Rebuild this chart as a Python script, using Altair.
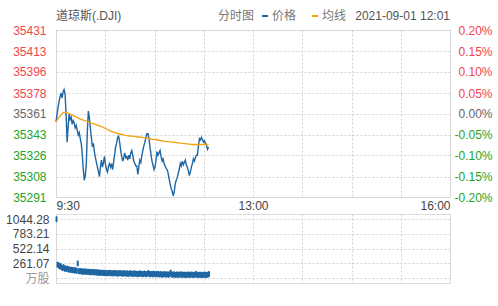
import altair as alt
import pandas as pd

# ---------------- data ----------------
minutes = list(range(152))
price = [
    35354, 35360, 35366, 35371, 35375, 35378, 35374, 35379, 35381, 35377,
    35360, 35337, 35350, 35361, 35356, 35358, 35352, 35355, 35353, 35349,
    35351, 35347, 35343, 35345, 35340, 35336, 35327, 35314, 35305, 35309,
    35319, 35345, 35363, 35358, 35349, 35341, 35333, 35336, 35329, 35324,
    35320, 35316, 35312, 35308, 35316, 35322, 35316, 35320, 35325, 35318,
    35314, 35312, 35317, 35319, 35316, 35319, 35314, 35320, 35326, 35333,
    35336, 35341, 35342, 35337, 35330, 35325, 35321, 35324, 35328, 35324,
    35325, 35322, 35326, 35323, 35328, 35330, 35326, 35321, 35319, 35317,
    35317, 35310, 35316, 35322, 35320, 35326, 35330, 35334, 35337, 35341,
    35344, 35344, 35340, 35333, 35327, 35321, 35318, 35314, 35316, 35322,
    35329, 35326, 35328, 35330, 35325, 35321, 35323, 35319, 35317, 35315,
    35314, 35311, 35306, 35302, 35298, 35296, 35292, 35295, 35302, 35305,
    35307, 35311, 35314, 35319, 35317, 35321, 35318, 35320, 35322, 35318,
    35316, 35313, 35309, 35312, 35316, 35319, 35323, 35321, 35324, 35326,
    35326, 35334, 35340, 35339, 35341, 35339, 35337, 35338, 35336, 35334,
    35331, 35333,
]
avg_minutes = [0, 5, 8, 10, 15, 20, 25, 30, 35, 40, 45, 50, 55, 60, 65, 70, 75,
               80, 85, 90, 95, 100, 105, 110, 115, 120, 125, 130, 135, 140, 145, 151]
avg_price = [35354, 35360, 35362, 35362, 35360, 35358, 35356, 35354.5, 35353, 35351.5,
             35350, 35348, 35346, 35344.5, 35343.5, 35342.5, 35342, 35341.5, 35341,
             35340.5, 35339.5, 35339, 35338, 35337.5, 35337, 35336.5, 35336, 35335.5,
             35335, 35335, 35335, 35335]
volume = [
    1040, 236, 228, 205, 214, 188, 176, 192, 164, 170,
    158, 166, 148, 152, 140, 146, 136, 142, 130, 138,
    126, 258, 122, 116, 124, 112, 118, 108, 120, 110,
    114, 104, 112, 100, 108, 98, 110, 102, 96, 106,
    94, 100, 90, 98, 88, 96, 92, 86, 94, 84,
    90, 82, 88, 94, 80, 86, 78, 92, 84, 80,
    86, 76, 84, 90, 78, 82, 74, 88, 80, 76,
    82, 72, 80, 86, 74, 78, 70, 84, 76, 72,
    78, 68, 76, 82, 70, 74, 66, 80, 72, 68,
    74, 88, 70, 66, 72, 64, 78, 68, 62, 70,
    66, 72, 60, 68, 64, 58, 70, 62, 66, 60,
    64, 58, 68, 96, 62, 56, 66, 60, 54, 64,
    58, 62, 56, 66, 60, 54, 62, 58, 52, 60,
    56, 64, 54, 58, 62, 52, 60, 56, 74, 54,
    58, 52, 60, 56, 50, 58, 54, 62, 52, 56,
    60, 70,
]
y_ticks = [35291, 35308, 35326, 35343, 35361, 35378, 35396, 35413, 35431]
pct_labels = ["-0.20%", "-0.15%", "-0.10%", "-0.05%", "0.00%", "0.05%", "0.10%", "0.15%", "0.20%"]
prev_close = 35361
vol_ticks = [0, 261.07, 522.14, 783.21, 1044.28]
x_ticks = [0, 48.75, 97.5, 146.25, 195, 243.75, 292.5, 341.25, 390]
x_labels = {0: "9:30", 195: "13:00", 390: "16:00"}
title_text = "道琼斯(.DJI)"
mode_text = "分时图"
legend_names = ["价格", "均线"]
date_text = "2021-09-01 12:01"

# ---------------- styles ----------------
FONT = "Liberation Sans, Noto Sans CJK SC"
BLUE = "#1f67a3"
ORANGE = "#f5a20c"
RED = "#f0454d"
GREEN = "#22a32a"
GRAY = "#666666"
GRID = "#d2d2d2"

price_df = pd.DataFrame({"m": minutes, "price": price})
avg_df = pd.DataFrame({"m": avg_minutes, "avg": avg_price})
vol_df = pd.DataFrame({"m": minutes, "v": volume})

x_expr = " : ".join(f"datum.value == {k} ? '{v}'" for k, v in x_labels.items()) + " : ''"
pct_expr = " : ".join(f"datum.value == {t} ? '{l}'" for t, l in zip(y_ticks, pct_labels)) + " : ''"

color_cond = {
    "condition": [
        {"test": f"datum.value > {prev_close + 0.5}", "value": RED},
        {"test": f"datum.value < {prev_close - 0.5}", "value": GREEN},
    ],
    "value": GRAY,
}

x_scale = alt.Scale(domain=[0, 390], nice=False, zero=False)
y_scale = alt.Scale(domain=[y_ticks[0], y_ticks[-1]], nice=False, zero=False)

x_axis_main = alt.Axis(values=x_ticks, tickCount=len(x_ticks), labelExpr=x_expr, labelFlush=True,
                       grid=True, gridDash=[2, 2], gridColor=GRID, domain=False, ticks=False,
                       labelPadding=3, labelFontSize=12, labelColor="#444", title=None,
                       labelFont=FONT, labelOverlap=False)
left_axis = alt.Axis(values=y_ticks, tickCount=len(y_ticks), format="d", labelColor=color_cond,
                     labelFontSize=12, labelPadding=10, ticks=False, domain=False, grid=True,
                     gridDash=[2, 2], gridColor=GRID, title=None, labelFont=FONT,
                     labelOverlap=False)
right_axis = alt.Axis(orient="right", values=y_ticks, tickCount=len(y_ticks), labelExpr=pct_expr,
                      labelColor=color_cond, labelAlign="right", labelPadding=42,
                      labelFontSize=12, grid=False, ticks=False, domain=False, title=None,
                      labelFont=FONT, labelOverlap=False)

price_line = alt.Chart(price_df).mark_line(color=BLUE, strokeWidth=1.4).encode(
    x=alt.X("m:Q", scale=x_scale, axis=x_axis_main),
    y=alt.Y("price:Q", scale=y_scale, axis=left_axis),
)
avg_line = alt.Chart(avg_df).mark_line(color=ORANGE, strokeWidth=1.3, interpolate="monotone").encode(
    x=alt.X("m:Q", scale=x_scale, axis=x_axis_main),
    y=alt.Y("avg:Q", scale=y_scale, axis=left_axis),
)
right_layer = alt.Chart(price_df).mark_line(opacity=0).encode(
    x=alt.X("m:Q", scale=x_scale, axis=x_axis_main),
    y=alt.Y("price:Q", scale=y_scale, axis=right_axis),
)

one = pd.DataFrame({"k": [0]})


def label(txt, x, color, align="left"):
    return alt.Chart(one).mark_text(align=align, baseline="middle", fontSize=12, font=FONT,
                                    color=color).encode(
        x=alt.value(x), y=alt.value(-14), text=alt.value(txt))


def dash(x, color):
    return alt.Chart(one).mark_rule(color=color, strokeWidth=2).encode(
        x=alt.value(x), x2=alt.value(x + 6), y=alt.value(-14))


header = alt.layer(
    label(title_text, 0, "#555"),
    label(mode_text, 162, "#777"),
    dash(206, BLUE),
    label(legend_names[0], 216, "#777"),
    dash(256, ORANGE),
    label(legend_names[1], 266, "#777"),
    label(date_text, 394, "#555", align="right"),
)

main = alt.layer(alt.layer(price_line, avg_line, header), right_layer).resolve_scale(
    y="independent").properties(width=394, height=167)

vol_axis = alt.Axis(values=vol_ticks, tickCount=len(vol_ticks),
                    labelExpr="datum.value == 0 ? '万股' : format(datum.value, '.2f')",
                    labelColor={"condition": {"test": "datum.value == 0", "value": "#999"},
                                "value": "#444"},
                    labelFontSize=12, labelPadding=7, ticks=False, domain=False, grid=True,
                    gridDash=[2, 2], gridColor=GRID, title=None, labelFont=FONT,
                    labelOverlap=False)
vol_chart = alt.Chart(vol_df).transform_calculate(m2="datum.m + 1").mark_bar(
    color=BLUE, stroke=BLUE, strokeWidth=1).encode(
    x=alt.X("m:Q", scale=x_scale,
            axis=alt.Axis(values=x_ticks, tickCount=len(x_ticks), labels=False, ticks=False,
                          domain=False, grid=True, gridDash=[2, 2], gridColor=GRID, title=None)),
    x2="m2:Q",
    y=alt.Y("v:Q", scale=alt.Scale(domain=[0, vol_ticks[-1]], nice=False, zero=True), axis=vol_axis),
).properties(width=394, height=69)

chart = alt.vconcat(main, vol_chart, spacing=0).properties(
    padding={"left": 5, "top": 9, "right": 5, "bottom": 5}
).configure_view(stroke="#999", strokeWidth=1).configure(background="white")

chart.save("out.html", embed_options={"renderer": "svg", "actions": False})
